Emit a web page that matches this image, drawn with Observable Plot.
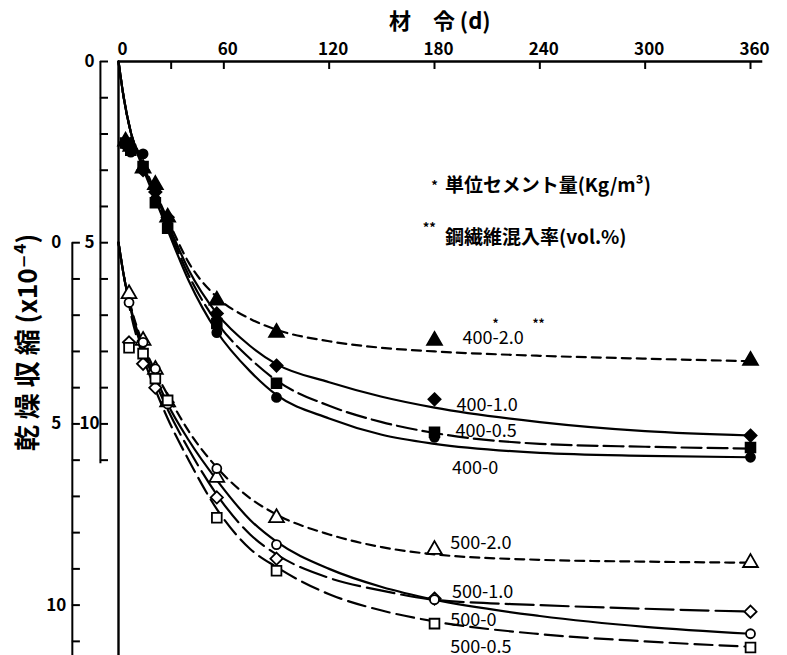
<!DOCTYPE html>
<html><head><meta charset="utf-8">
<script src="https://cdn.jsdelivr.net/npm/d3@7"></script>
<script src="https://cdn.jsdelivr.net/npm/@observablehq/plot@0.6"></script>
<style>body{margin:0;background:#fff;}</style>
</head><body><div id="chart"></div>
<script>
// x: age in days; y: drying shrinkage (x10^-4). Lower group drawn on an axis offset by 5 units.
const curveDays = [0,3,7,14,21,28,40,56,75,90,120,150,180,240,300,360];
const c400_20 = [0,1.0,1.95,2.8,3.6,4.35,5.55,6.5,7.1,7.4,7.72,7.9,8.0,8.12,8.2,8.27];
const c400_10 = [0,1.0,1.95,2.85,3.65,4.45,5.75,6.95,7.85,8.35,8.85,9.25,9.55,9.95,10.2,10.32];
const c400_05 = [0,1.0,1.95,2.9,3.75,4.55,5.9,7.2,8.2,8.8,9.5,9.95,10.25,10.55,10.63,10.68];
const c400_00 = [0,1.0,1.95,2.95,3.8,4.65,6.05,7.45,8.55,9.2,9.85,10.3,10.55,10.8,10.88,10.92];
const c500_20 = [0,0.9,1.75,2.8,3.55,4.2,5.2,6.2,7.05,7.5,8.05,8.4,8.6,8.75,8.8,8.83];
const c500_10 = [0,0.9,1.85,3.0,3.85,4.6,5.7,6.95,8.05,8.6,9.25,9.6,9.85,10.0,10.1,10.18];
const c500_00 = [0,0.9,1.8,2.9,3.7,4.45,5.45,6.55,7.65,8.25,9.0,9.5,9.85,10.3,10.6,10.79];
const c500_05 = [0,0.9,1.95,3.15,4.05,4.85,6.0,7.35,8.45,8.95,9.7,10.15,10.45,10.8,11.0,11.15];

const pDays400 = [4,7,14,21,28,56,90,180,360];
const p400_20 = [2.2,2.35,2.95,3.4,4.3,6.59,7.48,7.7,8.25];
const p400_10 = [2.25,2.4,3.0,3.6,4.3,6.95,8.39,9.32,10.32];
const p400_05 = [2.25,2.45,2.9,3.9,4.6,7.23,8.88,10.23,10.65];
const p400_00 = [2.3,2.5,2.55,3.8,4.5,7.48,9.27,10.37,10.92];
const pDays500 = [6,14,21,28,56,90,180,360];
const p500_20 = [1.41,2.7,3.5,4.4,6.48,7.59,8.47,8.83];
const p500_10 = [2.75,3.34,4.0,4.4,7.03,8.72,9.82,10.18];
const p500_00 = [1.65,2.75,3.48,4.45,6.23,8.33,9.85,10.79];
const p500_05 = [2.9,3.06,3.75,4.35,7.59,9.05,10.51,11.17];

const xTicks = [0,60,120,180,240,300,360];
const xMinorTicks = [30];
const yTicksUpper = [0,1,2,3,4,5,6,7,8,9,10,11];
const yTicksLower = [0,1,2,3,4,5,6,7,8,9,10,11];
const yLabels = [0,5,10];
const lowerOffset = 5;

const labelText = ["400-2.0","400-1.0","400-0.5","400-0","500-2.0","500-1.0","500-0","500-0.5"];
const labelDay  = [196,192.5,192,190,189,190,189,189];
const labelVal  = [7.64,9.49,10.2,11.23,13.3,14.65,15.42,16.15];

const series = [
  {c:c400_20, p:p400_20, pd:pDays400, off:0, sym:"triangle", fill:"black", dash:"9,6"},
  {c:c400_10, p:p400_10, pd:pDays400, off:0, sym:"diamond2", fill:"black", dash:null},
  {c:c400_05, p:p400_05, pd:pDays400, off:0, sym:"square", fill:"black", dash:"20,6"},
  {c:c400_00, p:p400_00, pd:pDays400, off:0, sym:"circle", fill:"black", dash:null},
  {c:c500_20, p:p500_20, pd:pDays500, off:lowerOffset, sym:"triangle", fill:"white", dash:"9,6"},
  {c:c500_10, p:p500_10, pd:pDays500, off:lowerOffset, sym:"diamond2", fill:"white", dash:"28,7"},
  {c:c500_00, p:p500_00, pd:pDays500, off:lowerOffset, sym:"circle", fill:"white", dash:null},
  {c:c500_05, p:p500_05, pd:pDays500, off:lowerOffset, sym:"square", fill:"white", dash:"18,7"}
];

const font = "'Noto Sans CJK JP','DejaVu Sans',sans-serif";
const marks = [];
// axes decoration
const innerAxis = -10.3, outerAxis = -26.3;
marks.push(Plot.ruleY([0], {x1:0, x2:367, strokeWidth:2.4}));
marks.push(Plot.ruleX([0], {y1:0, y2:16.39, strokeWidth:2.4}));
marks.push(Plot.ruleX(xTicks.concat(xMinorTicks).filter(d=>d>0), {y1:0, y2:0.22, strokeWidth:2}));
marks.push(Plot.axisX({anchor:"top", ticks:xTicks, tickSize:0, tickPadding:7, dx:4, label:null,
  fontSize:17, fontWeight:"bold", fontFamily:font}));
marks.push(Plot.ruleX([innerAxis], {y1:0, y2:11.1, strokeWidth:2}));
marks.push(Plot.ruleY(yTicksUpper, {x1:innerAxis, x2:innerAxis+4.6, strokeWidth:2}));
marks.push(Plot.ruleX([outerAxis], {y1:lowerOffset, y2:16.39, strokeWidth:2}));
marks.push(Plot.ruleY(yTicksLower.map(v=>v+lowerOffset), {x1:outerAxis, x2:outerAxis+4.6, strokeWidth:2}));
marks.push(Plot.text(yLabels, {x:-16.5, y:d=>d, text:d=>String(d), fontSize:17, fontWeight:"bold", fontFamily:font}));
marks.push(Plot.text(yLabels, {x:-35.5, y:d=>d+lowerOffset, text:d=>String(d), fontSize:17, fontWeight:"bold", fontFamily:font}));
marks.push(Plot.text(["乾 燥 収 縮 (x10⁻⁴)"], {x:-51.3, y:7.75, rotate:-90, fontSize:26, fontWeight:"bold", fontFamily:font}));
marks.push(Plot.text(["材　令 (d)"], {x:183, y:-1.08, fontSize:22, fontWeight:"bold", fontFamily:font}));

// curves and markers
series.forEach(s => {
  const cd = curveDays.map((d,i)=>({d, v:s.c[i]+s.off}));
  const opts = {x:"d", y:"v", curve:"monotone-x", strokeWidth:2.2, stroke:"black"};
  if (s.dash) opts.strokeDasharray = s.dash;
  marks.push(Plot.line(cd, opts));
});
series.forEach(s => {
  const pd = s.pd.map((d,i)=>({d, v:s.p[i]+s.off}));
  marks.push(Plot.dot(pd, {x:"d", y:"v", symbol:s.sym, r:s.sym==="circle"?4.5:5.5, fill:s.fill, stroke:"black", strokeWidth:1.8}));
});

// series labels
const lab = labelText.map((t,i)=>({t, d:labelDay[i], v:labelVal[i]}));
marks.push(Plot.text(lab, {x:"d", y:"v", text:"t", textAnchor:"start", fontSize:18, fontFamily:font, fill:"black"}));
marks.push(Plot.text(["*"], {x:labelDay[0], y:labelVal[0], dx:33, dy:-14, text:d=>d, fontSize:12, fontWeight:"bold", fontFamily:font}));
marks.push(Plot.text(["**"], {x:labelDay[0], y:labelVal[0], dx:76, dy:-14, text:d=>d, fontSize:12, fontWeight:"bold", fontFamily:font}));

// notes
marks.push(Plot.text(["*"], {x:180, y:3.42, text:d=>d, fontSize:13, fontWeight:"bold", fontFamily:font}));
marks.push(Plot.text(["単位セメント量(Kg/m³)"], {x:186, y:3.42, textAnchor:"start", fontSize:19, fontWeight:"bold", fontFamily:font}));
marks.push(Plot.text(["**"], {x:177, y:4.6, text:d=>d, fontSize:13, fontWeight:"bold", fontFamily:font}));
marks.push(Plot.text(["鋼繊維混入率(vol.%)"], {x:186, y:4.88, textAnchor:"start", fontSize:19, fontWeight:"bold", fontFamily:font}));

const chart = Plot.plot({
  width:787, height:655,
  marginLeft:118, marginRight:37, marginTop:61, marginBottom:0,
  x:{domain:[0,360], axis:null},
  y:{domain:[0,16.39], reverse:true, axis:null},
  style:{background:"white", color:"black"},
  marks
});
document.getElementById("chart").appendChild(chart);
</script>
</body></html>
